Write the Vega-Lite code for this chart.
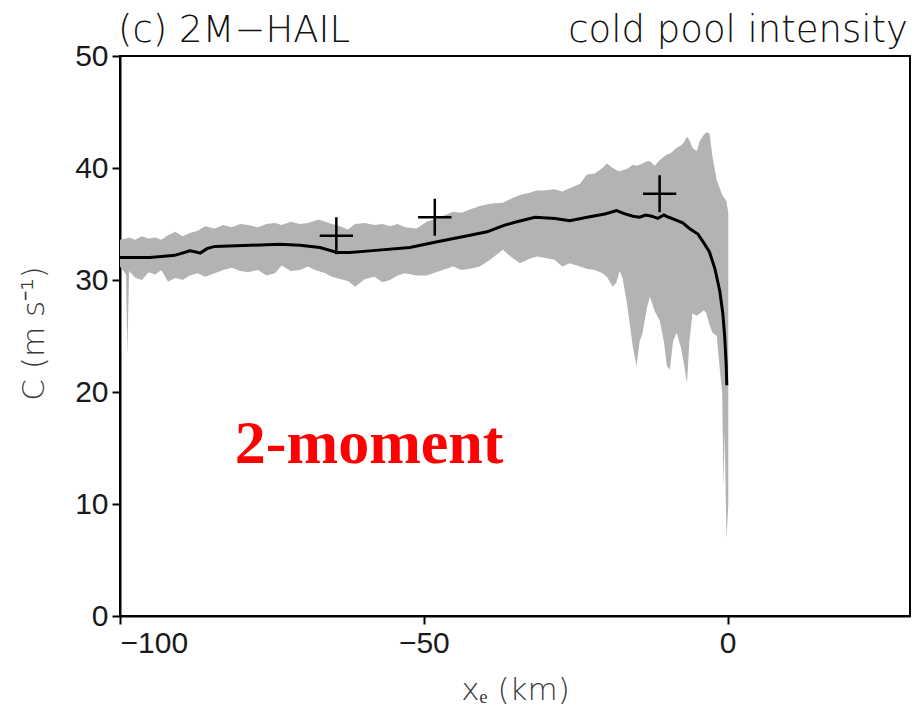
{
  "$schema": "https://vega.github.io/schema/vega-lite/v6.json",
  "width": 790,
  "height": 560,
  "autosize": "none",
  "padding": {"left": 120, "top": 56, "right": 5, "bottom": 95},
  "background": "white",
  "config": {
    "view": {"stroke": "black", "strokeWidth": 2},
    "axis": {
      "grid": false,
      "domainColor": "black",
      "domainWidth": 2,
      "tickColor": "black",
      "tickWidth": 2,
      "tickSize": 8,
      "labelFont": "Liberation Sans",
      "labelFontSize": 30,
      "labelColor": "#1a1a1a",
      "labelPadding": 4,
      "titleFont": "DejaVu Sans",
      "titleFontSize": 31,
      "titleFontWeight": 300,
      "titleColor": "#3a3a3a"
    }
  },
  "datasets": {
    "band": [
      {"x": -100, "lo": 31.2, "hi": 33.6},
      {"x": -99.0, "lo": 30.5, "hi": 33.7},
      {"x": -98.8, "lo": 23.3, "hi": 33.7},
      {"x": -98.5, "lo": 30.8, "hi": 33.8},
      {"x": -97.5, "lo": 30.2, "hi": 33.6},
      {"x": -96.4, "lo": 30.0, "hi": 33.9},
      {"x": -95.3, "lo": 30.7, "hi": 33.7},
      {"x": -94.2, "lo": 30.5, "hi": 33.8},
      {"x": -93.2, "lo": 30.9, "hi": 33.6},
      {"x": -92.1, "lo": 29.85, "hi": 34.0},
      {"x": -90.9, "lo": 30.2, "hi": 34.3},
      {"x": -89.7, "lo": 30.0, "hi": 33.9},
      {"x": -88.5, "lo": 30.4, "hi": 34.2},
      {"x": -87.2, "lo": 30.6, "hi": 34.4},
      {"x": -86.0, "lo": 30.3, "hi": 34.8},
      {"x": -84.4, "lo": 30.6, "hi": 34.6},
      {"x": -83.0, "lo": 30.9, "hi": 34.9},
      {"x": -81.6, "lo": 31.1, "hi": 34.7},
      {"x": -80.2, "lo": 30.8, "hi": 35.0},
      {"x": -78.9, "lo": 30.7, "hi": 34.9},
      {"x": -77.3, "lo": 30.9, "hi": 34.7},
      {"x": -75.9, "lo": 30.4, "hi": 35.0},
      {"x": -74.5, "lo": 30.6, "hi": 35.1},
      {"x": -73.4, "lo": 31.3, "hi": 34.9},
      {"x": -71.9, "lo": 30.8, "hi": 35.2},
      {"x": -70.4, "lo": 30.9, "hi": 35.0},
      {"x": -69.1, "lo": 31.2, "hi": 35.1},
      {"x": -67.9, "lo": 30.9, "hi": 35.3},
      {"x": -67.4, "lo": 30.8, "hi": 35.4},
      {"x": -66.2, "lo": 30.6, "hi": 35.2},
      {"x": -65.1, "lo": 30.3, "hi": 35.0},
      {"x": -63.8, "lo": 30.1, "hi": 34.8},
      {"x": -62.5, "lo": 29.9, "hi": 34.5},
      {"x": -61.3, "lo": 29.4, "hi": 35.0},
      {"x": -59.7, "lo": 30.1, "hi": 35.1},
      {"x": -58.1, "lo": 30.3, "hi": 34.9},
      {"x": -56.8, "lo": 29.8, "hi": 35.0},
      {"x": -55.6, "lo": 30.0, "hi": 34.8},
      {"x": -54.3, "lo": 30.4, "hi": 35.0},
      {"x": -53.1, "lo": 30.6, "hi": 34.7},
      {"x": -51.2, "lo": 30.4, "hi": 34.6},
      {"x": -49.5, "lo": 30.4, "hi": 35.2},
      {"x": -47.4, "lo": 30.8, "hi": 35.6},
      {"x": -45.2, "lo": 31.2, "hi": 36.1},
      {"x": -43.8, "lo": 30.9, "hi": 36.0},
      {"x": -42.4, "lo": 31.0, "hi": 36.3},
      {"x": -40.8, "lo": 31.2, "hi": 36.6},
      {"x": -39.1, "lo": 31.8, "hi": 36.8},
      {"x": -37.0, "lo": 32.7, "hi": 36.9},
      {"x": -35.5, "lo": 32.0, "hi": 37.3},
      {"x": -34.2, "lo": 31.5, "hi": 37.6},
      {"x": -32.6, "lo": 31.9, "hi": 37.8},
      {"x": -31.4, "lo": 32.1, "hi": 38.0},
      {"x": -30.4, "lo": 32.0, "hi": 38.0},
      {"x": -28.5, "lo": 31.8, "hi": 38.1},
      {"x": -27.2, "lo": 31.2, "hi": 37.9},
      {"x": -26.0, "lo": 31.5, "hi": 38.2},
      {"x": -24.3, "lo": 31.2, "hi": 38.6},
      {"x": -23.2, "lo": 31.0, "hi": 39.4},
      {"x": -21.9, "lo": 30.9, "hi": 39.5},
      {"x": -20.6, "lo": 30.6, "hi": 40.0},
      {"x": -19.9, "lo": 30.3, "hi": 40.4},
      {"x": -18.9, "lo": 29.4, "hi": 40.0},
      {"x": -18.3, "lo": 29.8, "hi": 39.8},
      {"x": -17.8, "lo": 30.8, "hi": 39.7},
      {"x": -17.3, "lo": 30.2, "hi": 39.8},
      {"x": -16.6, "lo": 28.0, "hi": 39.9},
      {"x": -16.1, "lo": 26.0, "hi": 40.1},
      {"x": -15.6, "lo": 24.0, "hi": 40.3},
      {"x": -15.0, "lo": 22.3, "hi": 40.2},
      {"x": -14.5, "lo": 24.5, "hi": 40.3},
      {"x": -14.0, "lo": 25.3, "hi": 40.4},
      {"x": -13.3, "lo": 27.5, "hi": 40.6},
      {"x": -12.8, "lo": 28.5, "hi": 40.6},
      {"x": -12.0, "lo": 27.2, "hi": 40.2},
      {"x": -11.2, "lo": 26.4, "hi": 40.7},
      {"x": -10.5, "lo": 24.5, "hi": 41.0},
      {"x": -10.0, "lo": 22.3, "hi": 41.2},
      {"x": -9.5, "lo": 22.0, "hi": 41.3},
      {"x": -9.0, "lo": 24.5, "hi": 41.5},
      {"x": -8.4, "lo": 25.3, "hi": 41.8},
      {"x": -7.7, "lo": 24.0, "hi": 42.0},
      {"x": -7.2, "lo": 22.5, "hi": 42.3},
      {"x": -6.7, "lo": 20.8, "hi": 42.8},
      {"x": -6.3, "lo": 24.5, "hi": 42.5},
      {"x": -5.8, "lo": 27.0, "hi": 41.8},
      {"x": -5.1, "lo": 26.8, "hi": 41.5},
      {"x": -4.6, "lo": 27.0, "hi": 42.4},
      {"x": -3.9, "lo": 27.3, "hi": 43.0},
      {"x": -3.5, "lo": 27.0, "hi": 43.2},
      {"x": -3.0, "lo": 26.0, "hi": 43.1},
      {"x": -2.5, "lo": 25.3, "hi": 41.0},
      {"x": -1.8, "lo": 25.0, "hi": 38.9},
      {"x": -1.3, "lo": 22.0, "hi": 38.2},
      {"x": -0.9, "lo": 19.9, "hi": 37.6},
      {"x": -0.7, "lo": 11.5, "hi": 37.4},
      {"x": -0.5, "lo": 16.5, "hi": 37.3},
      {"x": -0.2, "lo": 6.8, "hi": 37.0},
      {"x": 0.1, "lo": 10.0, "hi": 36.0}
    ],
    "mean": [
      {"x": -100, "c": 32.0},
      {"x": -95.1, "c": 32.0},
      {"x": -91.0, "c": 32.2},
      {"x": -88.5, "c": 32.6},
      {"x": -87.5, "c": 32.5},
      {"x": -86.8, "c": 32.4},
      {"x": -85.7, "c": 32.8},
      {"x": -84.4, "c": 33.0},
      {"x": -78.6, "c": 33.1},
      {"x": -73.7, "c": 33.2},
      {"x": -70.4, "c": 33.1},
      {"x": -67.1, "c": 32.9},
      {"x": -64.3, "c": 32.45},
      {"x": -62.2, "c": 32.45},
      {"x": -58.9, "c": 32.6},
      {"x": -52.3, "c": 32.9},
      {"x": -48.0, "c": 33.4},
      {"x": -42.4, "c": 34.0},
      {"x": -39.6, "c": 34.3},
      {"x": -36.7, "c": 34.9},
      {"x": -34.7, "c": 35.2},
      {"x": -31.7, "c": 35.6},
      {"x": -28.4, "c": 35.5},
      {"x": -26.0, "c": 35.3},
      {"x": -22.7, "c": 35.65},
      {"x": -20.2, "c": 35.9},
      {"x": -18.3, "c": 36.2},
      {"x": -16.9, "c": 35.9},
      {"x": -15.6, "c": 35.7},
      {"x": -14.5, "c": 35.6},
      {"x": -13.5, "c": 35.8},
      {"x": -12.5, "c": 35.7},
      {"x": -11.5, "c": 35.5},
      {"x": -10.5, "c": 35.8},
      {"x": -9.7, "c": 35.6},
      {"x": -8.7, "c": 35.4},
      {"x": -7.4, "c": 35.1},
      {"x": -6.3, "c": 34.6},
      {"x": -4.9, "c": 34.1},
      {"x": -3.8, "c": 33.2},
      {"x": -3.0, "c": 32.5},
      {"x": -2.1, "c": 31.0},
      {"x": -1.3, "c": 29.0},
      {"x": -0.8, "c": 27.0},
      {"x": -0.5, "c": 25.0},
      {"x": -0.25, "c": 22.5},
      {"x": -0.15, "c": 20.6}
    ],
    "obs": [
      {"x": -64.4, "c": 33.95},
      {"x": -48.2, "c": 35.6},
      {"x": -11.2, "c": 37.7}
    ]
  },
  "layer": [
    {
      "data": {"name": "band"},
      "mark": {"type": "area", "color": "#b3b3b3", "opacity": 1},
      "encoding": {
        "x": {
          "field": "x",
          "type": "quantitative",
          "scale": {"domain": [-100, 30], "nice": false, "zero": false},
          "axis": {"values": [-100, -50, 0], "title": "xₑ  (km)", "titleY": 74, "titleBaseline": "middle"}
        },
        "y": {
          "field": "lo",
          "type": "quantitative",
          "scale": {"domain": [0, 50], "nice": false},
          "axis": {"values": [0, 10, 20, 30, 40, 50], "title": "C  (m  s⁻¹)", "titleX": -86, "titleY": 277, "titleAlign": "center", "titleBaseline": "middle", "titleAngle": 270}
        },
        "y2": {"field": "hi"}
      }
    },
    {
      "data": {"name": "mean"},
      "mark": {"type": "line", "color": "black", "strokeWidth": 3},
      "encoding": {
        "x": {"field": "x", "type": "quantitative"},
        "y": {"field": "c", "type": "quantitative"}
      }
    },
    {
      "data": {"name": "obs"},
      "mark": {"type": "point", "shape": "M-0.9,0H0.9M0,-1V1", "filled": false, "stroke": "black", "strokeWidth": 2.5, "size": 1369, "opacity": 1},
      "encoding": {
        "x": {"field": "x", "type": "quantitative"},
        "y": {"field": "c", "type": "quantitative"}
      }
    },
    {
      "data": {"values": [{"label": "2-moment"}]},
      "mark": {"type": "text", "font": "Liberation Serif", "fontWeight": "bold", "fontSize": 62, "color": "#ff0000", "align": "center", "baseline": "alphabetic"},
      "encoding": {
        "x": {"datum": -59},
        "y": {"datum": 13.66},
        "text": {"field": "label"}
      }
    },
    {
      "data": {"values": [{"label": "(c)  2M−HAIL"}]},
      "mark": {"type": "text", "font": "DejaVu Sans", "fontWeight": 300, "fontSize": 37, "color": "#111111", "align": "left", "baseline": "alphabetic", "dy": -14, "dx": -2, "clip": false},
      "encoding": {
        "x": {"datum": -100},
        "y": {"datum": 50},
        "text": {"field": "label"}
      }
    },
    {
      "data": {"values": [{"label": "cold  pool  intensity"}]},
      "mark": {"type": "text", "font": "DejaVu Sans", "fontWeight": 300, "fontSize": 37, "color": "#111111", "align": "right", "baseline": "alphabetic", "dy": -14, "dx": -2, "clip": false},
      "encoding": {
        "x": {"datum": 30},
        "y": {"datum": 50},
        "text": {"field": "label"}
      }
    }
  ]
}
